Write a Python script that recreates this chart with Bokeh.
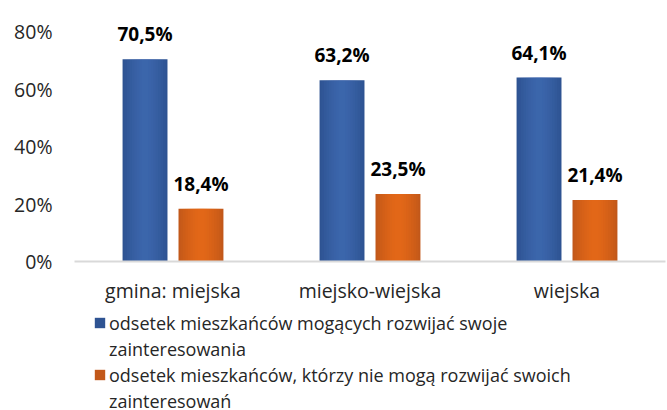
from bokeh.plotting import figure
from bokeh.layouts import column
from bokeh.models import (ColumnDataSource, FactorRange, Range1d, FixedTicker,
                          Legend, LegendItem)
from bokeh.transform import dodge
from bokeh.core.properties import value
from bokeh.embed import file_html
from bokeh.resources import INLINE

categories = ["gmina: miejska", "miejsko-wiejska", "wiejska"]
can_develop = [70.5, 63.2, 64.1]
cannot_develop = [18.4, 23.5, 21.4]
# series names, split where the reference wraps them
series_lines = [
    ["odsetek mieszkańców mogących rozwijać swoje", "zainteresowania"],
    ["odsetek mieszkańców, którzy nie mogą rozwijać swoich", "zainteresowań"],
]
series_colors = ["#2E5392", "#C2581A"]
y_ticks = [0, 20, 40, 60, 80]
y_tick_labels = ["0%", "20%", "40%", "60%", "80%"]


def fmt(v):
    return f"{v:.1f}%".replace(".", ",")


src = ColumnDataSource(dict(
    cat=categories,
    a=can_develop,
    b=cannot_develop,
    a_lbl=[fmt(v) for v in can_develop],
    b_lbl=[fmt(v) for v in cannot_develop],
))

FONT = "Open Sans"
BAR_W = 0.228
OFF = 0.142

p = figure(x_range=FactorRange(factors=categories, range_padding=0),
           y_range=Range1d(0, 84),
           width=667, height=310,
           output_backend="svg", toolbar_location=None,
           min_border_left=74, min_border_right=2, min_border_top=20,
           min_border_bottom=49)
p.outline_line_color = None
p.xgrid.visible = False
p.ygrid.visible = False

# blue bars with a soft horizontal gradient (overlays)
p.vbar(x=dodge("cat", -OFF, range=p.x_range), top="a", width=BAR_W,
       source=src, fill_color=series_colors[0], line_color=None)
for i in range(8):
    f = 0.92 - i * 0.11
    p.vbar(x=dodge("cat", -OFF, range=p.x_range), top="a", width=BAR_W * f,
           source=src, fill_color="#4A78C8", fill_alpha=0.09, line_color=None)

# orange bars
p.vbar(x=dodge("cat", OFF, range=p.x_range), top="b", width=BAR_W,
       source=src, fill_color=series_colors[1], line_color=None)
for i in range(8):
    f = 0.92 - i * 0.11
    p.vbar(x=dodge("cat", OFF, range=p.x_range), top="b", width=BAR_W * f,
           source=src, fill_color="#F7751A", fill_alpha=0.12, line_color=None)

for col, off in (("a_lbl", -OFF), ("b_lbl", OFF)):
    p.text(x=dodge("cat", off, range=p.x_range), y=col[0], text=col,
           source=src, text_align="center", text_baseline="alphabetic",
           y_offset=-25, text_font=value(FONT), text_font_style="bold",
           text_font_size="19px", text_color="#000000")

# axes
for ax in (p.xaxis[0], p.yaxis[0]):
    ax.major_tick_line_color = None
    ax.minor_tick_line_color = None
    ax.major_tick_out = 0
    ax.major_tick_in = 0
    ax.minor_tick_out = 0
    ax.minor_tick_in = 0
    ax.major_label_text_font = FONT
    ax.major_label_text_font_size = "19.5px"
    ax.major_label_text_color = "#262626"

p.yaxis.ticker = FixedTicker(ticks=y_ticks)
p.yaxis.major_label_overrides = dict(zip(y_ticks, y_tick_labels))
p.yaxis.axis_line_color = None
p.yaxis.major_label_standoff = 22

p.xaxis.axis_line_color = "#D9D9D9"
p.xaxis.axis_line_width = 2
p.xaxis.major_label_standoff = 15

# legend strip below the chart (same frame left as the chart)
lf = figure(width=667, height=100, output_backend="svg", toolbar_location=None,
            x_range=Range1d(0, 1), y_range=Range1d(0, 1),
            x_axis_location=None, y_axis_location=None,
            min_border_left=74, min_border_right=2, min_border_top=0,
            min_border_bottom=0)
lf.outline_line_color = None
lf.xgrid.visible = False
lf.ygrid.visible = False
# legend key proxies (zero height, so nothing is drawn in the strip)
proxies = [lf.vbar(x=[0.5], top=[0], width=0.1, fill_color=c, line_color=None)
           for c in series_colors]
blank = lf.vbar(x=[0.5], top=[0], width=0.1, fill_alpha=0, line_color=None)

items = []
for lines, r in zip(series_lines, proxies):
    items.append(LegendItem(label=lines[0], renderers=[r]))
    for extra in lines[1:]:
        items.append(LegendItem(label=extra, renderers=[blank]))

legend = Legend(items=items, location=(19, -3), orientation="vertical")
legend.border_line_color = None
legend.background_fill_alpha = 0
legend.margin = 0
legend.padding = 0
legend.glyph_width = 13
legend.glyph_height = 13
legend.label_standoff = 3
legend.label_height = 25
legend.spacing = 1
legend.label_text_font = FONT
legend.label_text_font_size = "18px"
legend.label_text_color = "#262626"
lf.add_layout(legend)

open("out.html", "w").write(file_html(column(p, lf), INLINE))
